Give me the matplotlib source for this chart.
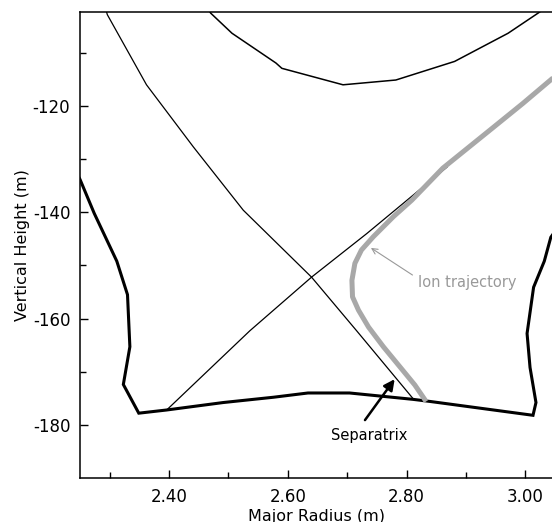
import matplotlib
matplotlib.use("Agg")
import matplotlib.pyplot as plt
from matplotlib.ticker import FixedLocator, FormatStrFormatter

plt.rcParams["axes.unicode_minus"] = False

# Wall (thick black)
wall_r = [2.245, 2.250, 2.274, 2.312, 2.330, 2.334, 2.323, 2.349, 2.396, 2.491, 2.576,
          2.634, 2.704, 2.811, 2.840, 3.013, 3.018, 3.008, 3.003, 3.014, 3.032, 3.043, 3.050]
wall_z = [-132.8, -133.8, -140.2, -149.2, -155.5, -165.3, -172.4, -177.8, -177.2, -175.8, -174.8,
          -174.0, -174.0, -175.2, -175.6, -178.2, -175.8, -169.2, -162.8, -154.1, -149.2, -144.7, -143.6]

# Upper flux surface
top_r = [2.466, 2.470, 2.506, 2.580, 2.590, 2.693, 2.782, 2.881, 2.971, 3.023, 3.028]
top_z = [-101.8, -102.5, -106.3, -111.9, -112.9, -116.0, -115.1, -111.6, -106.3, -102.4, -102.0]

# Separatrix legs (thin black)
leg1_r = [2.294, 2.296, 2.362, 2.441, 2.525, 2.640, 2.716, 2.812]
leg1_z = [-102.0, -102.8, -116.0, -127.7, -139.6, -152.2, -162.3, -175.2]
leg2_r = [2.396, 2.536, 2.640, 2.733, 2.868]
leg2_z = [-177.2, -162.3, -152.2, -144.0, -131.5]

# Ion trajectory (grey)
ion_r = [3.050, 2.996, 2.943, 2.861, 2.809, 2.778, 2.744, 2.724, 2.713, 2.708, 2.709,
         2.719, 2.736, 2.761, 2.789, 2.814, 2.833]
ion_z = [-114.4, -119.5, -124.3, -131.7, -137.7, -140.8, -144.6, -147.1, -149.6, -152.8, -155.9,
         -158.4, -161.6, -165.3, -169.1, -172.5, -175.6]

x_major = [2.40, 2.60, 2.80, 3.00]
x_minor = [2.30, 2.50, 2.70, 2.90]
y_major = [-180, -160, -140, -120]
y_minor = [-170, -150, -130, -110]

fig = plt.figure(figsize=(5.52, 5.22), dpi=100)
ax = fig.add_axes([80/552, 1-478/522, 1-80/552, (478-12)/522])

ax.plot(wall_r, wall_z, color="black", lw=2.2, solid_joinstyle="miter")
ax.plot(top_r, top_z, color="black", lw=1.1)
ax.plot(leg1_r, leg1_z, color="black", lw=0.9)
ax.plot(leg2_r, leg2_z, color="black", lw=0.9)
ax.plot(ion_r, ion_z, color="#a8a8a8", lw=3.6, solid_capstyle="butt",
        solid_joinstyle="round")

# Ion trajectory label and arrow
ax.text(2.819, -153.2, "Ion trajectory", color="#999999", fontsize=10.5,
        va="center", ha="left")
ax.annotate("", xy=(2.740, -146.7), xytext=(2.810, -151.8),
            arrowprops=dict(arrowstyle="->", color="#999999", lw=0.8,
                            shrinkA=0, shrinkB=0))

# Separatrix label and arrow
ax.text(2.737, -182.0, "Separatrix", color="black", fontsize=10.5,
        va="center", ha="center")
ax.annotate("", xy=(2.780, -171.4), xytext=(2.730, -179.1),
            arrowprops=dict(arrowstyle="-|>", color="black", lw=1.8,
                            mutation_scale=16, shrinkA=0, shrinkB=0))

ax.set_xlim(2.25, 3.045)
ax.set_ylim(-190, -102.3)
ax.xaxis.set_major_locator(FixedLocator(x_major))
ax.xaxis.set_minor_locator(FixedLocator(x_minor))
ax.yaxis.set_major_locator(FixedLocator(y_major))
ax.yaxis.set_minor_locator(FixedLocator(y_minor))
ax.xaxis.set_major_formatter(FormatStrFormatter("%.2f"))
ax.yaxis.set_major_formatter(FormatStrFormatter("%d"))
ax.tick_params(which="both", direction="in", top=False, right=False, labelsize=12)
ax.tick_params(which="major", length=6, width=1, pad=7)
ax.tick_params(which="minor", length=4, width=1)
ax.spines["right"].set_visible(False)
for s in ["left", "bottom", "top"]:
    ax.spines[s].set_linewidth(1.1)

ax.set_xlabel("Major Radius (m)", fontsize=11.5, labelpad=2)
ax.set_ylabel("Vertical Height (m)", fontsize=11.5, labelpad=2)

fig.savefig("out.png", dpi=100)
